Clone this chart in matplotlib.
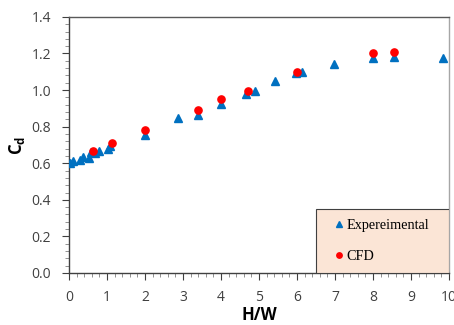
import matplotlib
matplotlib.use("Agg")
import matplotlib.pyplot as plt
from matplotlib.patches import Rectangle
from matplotlib.ticker import MultipleLocator, FormatStrFormatter

# Discharge coefficient vs. H/W
exp_hw = [0.03, 0.10, 0.30, 0.36, 0.53, 0.57, 0.68, 0.80, 1.03, 1.08, 2.00,
          2.88, 3.40, 4.00, 4.66, 4.89, 5.41, 5.97, 6.13, 6.98, 8.00, 8.56, 9.85]
exp_cd = [0.603, 0.614, 0.620, 0.636, 0.627, 0.660, 0.654, 0.667, 0.676, 0.694, 0.752,
          0.846, 0.864, 0.922, 0.979, 0.995, 1.048, 1.092, 1.100, 1.141, 1.174, 1.183, 1.174]

cfd_hw = [0.62, 1.12, 2.00, 3.40, 4.00, 4.72, 6.00, 8.00, 8.56]
cfd_cd = [0.667, 0.712, 0.784, 0.889, 0.950, 0.995, 1.099, 1.201, 1.210]

fig = plt.figure(figsize=(4.54, 3.25), dpi=100)
ax = fig.add_axes([0.152, 0.16, 0.837, 0.788])

tick_font = "Open Sans"

ax.plot(exp_hw, exp_cd, linestyle="none", marker="^", markersize=6.2,
        color="#0070C0", label="Expereimental", zorder=3)
ax.plot(cfd_hw, cfd_cd, linestyle="none", marker="o", markersize=5.2,
        color="#FF0000", label="CFD", zorder=4)

ax.set_xlim(0, 10)
ax.set_ylim(0, 1.4)
ax.xaxis.set_major_locator(MultipleLocator(1))
ax.xaxis.set_minor_locator(MultipleLocator(0.2))
ax.yaxis.set_major_locator(MultipleLocator(0.2))
ax.yaxis.set_minor_locator(MultipleLocator(0.04))
ax.yaxis.set_major_formatter(FormatStrFormatter("%.1f"))

ax.tick_params(which="major", direction="out", length=5, width=0.8, color="#404040",
               labelsize=10, labelcolor="#404040")
ax.tick_params(which="minor", direction="out", length=3, width=0.6, color="#808080")
ax.tick_params(axis="x", which="major", pad=7)
ax.tick_params(axis="y", which="major", pad=8)
for lab in ax.get_xticklabels() + ax.get_yticklabels():
    lab.set_fontfamily(tick_font)

ax.spines["left"].set_color("#404040")
ax.spines["bottom"].set_color("#404040")
ax.spines["top"].set_color("#595959")
ax.spines["right"].set_color("#A6A6A6")
for s in ax.spines.values():
    s.set_linewidth(1.0)

ax.set_xlabel("H/W", fontfamily=tick_font, fontweight="bold", fontsize=12, labelpad=1)
ax.set_ylabel("C$_\\mathregular{d}$", fontfamily=tick_font, fontweight="bold",
              fontsize=12, labelpad=3)

# Legend panel in the lower right corner
box = Rectangle((0.65, 0.0), 0.35, 0.25, transform=ax.transAxes,
                facecolor="#FBE5D6", edgecolor="#404040", linewidth=0.8, zorder=5)
ax.add_patch(box)
leg = ax.legend(loc="center", bbox_to_anchor=(0.65, 0.0, 0.35, 0.25),
                frameon=False, prop={"family": "Liberation Serif", "size": 10.3},
                handlelength=0.5, handletextpad=0.25, labelspacing=1.3,
                markerscale=0.75)
leg.set_zorder(6)

fig.savefig("out.png", dpi=100)
